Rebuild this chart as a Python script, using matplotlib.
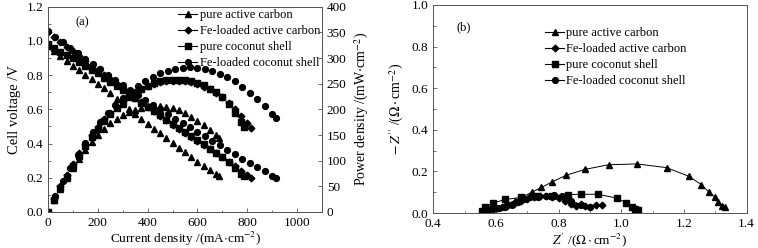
import matplotlib
matplotlib.use("Agg")
import matplotlib.pyplot as plt
from matplotlib.lines import Line2D
from matplotlib.ticker import MultipleLocator

plt.rcParams['font.family'] = ['Liberation Serif', 'DejaVu Serif']
plt.rcParams['mathtext.fontset'] = 'stix'
plt.rcParams['font.size'] = 9

labels = ["pure active carbon", "Fe-loaded active carbon",
          "pure coconut shell", "Fe-loaded coconut shell"]
markers = ["^", "D", "s", "o"]

# ---- (a) polarization / power curves ----
i_pac = [0, 25, 50, 75, 100, 125, 150, 175, 200, 225, 250, 275, 300, 325, 350,
         375, 400, 425, 450, 475, 500, 525, 550, 575, 600, 625, 650, 675, 687]
v_pac = [0.970, 0.940, 0.910, 0.882, 0.855, 0.829, 0.803, 0.777, 0.750, 0.722,
         0.694, 0.662, 0.630, 0.600, 0.570, 0.542, 0.515, 0.487, 0.460, 0.432,
         0.405, 0.377, 0.350, 0.322, 0.295, 0.270, 0.245, 0.222, 0.210]
p_pac = [0, 23.5, 45.5, 66.2, 85.5, 103.6, 120.5, 136.0, 150.0, 162.5, 173.5,
         182.1, 189.0, 195.0, 199.5, 203.3, 206.0, 207.0, 207.0, 205.2, 202.5,
         197.9, 192.5, 185.2, 177.0, 168.8, 159.3, 149.9, 144.3]

i_fac = [0, 25, 50, 75, 100, 125, 150, 175, 200, 225, 250, 275, 300, 325, 350,
         375, 400, 425, 450, 475, 500, 525, 550, 575, 600, 625, 650, 675, 700,
         725, 750, 775, 800, 815]
v_fac = [1.050, 1.020, 0.993, 0.966, 0.940, 0.912, 0.885, 0.857, 0.830, 0.802,
         0.775, 0.747, 0.720, 0.694, 0.668, 0.641, 0.615, 0.589, 0.563, 0.536,
         0.510, 0.486, 0.463, 0.439, 0.415, 0.391, 0.368, 0.344, 0.320, 0.294,
         0.268, 0.242, 0.216, 0.200]
p_fac = [0, 25.5, 49.7, 72.5, 94.0, 114.0, 132.8, 150.0, 166.0, 180.5, 193.8,
         205.4, 216.0, 225.6, 233.8, 240.4, 246.0, 250.3, 253.4, 254.6, 255.0,
         255.2, 254.7, 252.4, 249.0, 244.4, 239.2, 232.2, 224.0, 213.2, 201.0,
         187.6, 172.8, 163.0]

i_pcs = [0, 25, 50, 75, 100, 125, 150, 175, 200, 225, 250, 275, 300, 325, 350,
         375, 400, 425, 450, 475, 500, 525, 550, 575, 600, 625, 650, 675, 700,
         725, 750, 775, 785]
v_pcs = [0.980, 0.958, 0.938, 0.919, 0.900, 0.877, 0.855, 0.832, 0.810, 0.786,
         0.762, 0.739, 0.715, 0.690, 0.665, 0.640, 0.615, 0.590, 0.565, 0.540,
         0.515, 0.491, 0.467, 0.444, 0.420, 0.395, 0.370, 0.345, 0.320, 0.290,
         0.258, 0.225, 0.210]
p_pcs = [0, 24.0, 46.9, 68.9, 90.0, 109.6, 128.3, 145.6, 162.0, 176.9, 190.5,
         203.2, 214.5, 224.3, 232.8, 240.0, 246.0, 250.8, 254.3, 256.5, 257.5,
         257.8, 256.9, 255.3, 252.0, 246.9, 240.5, 232.9, 224.0, 210.3, 193.5,
         174.4, 164.9]

i_fcs = [0, 30, 60, 90, 120, 150, 180, 210, 240, 270, 300, 330, 360, 390, 420,
         450, 480, 510, 540, 570, 600, 630, 660, 690, 720, 750, 780, 810, 840,
         870, 900, 915]
v_fcs = [1.060, 1.025, 0.993, 0.961, 0.929, 0.897, 0.866, 0.835, 0.803, 0.772,
         0.740, 0.711, 0.683, 0.655, 0.627, 0.600, 0.573, 0.546, 0.520, 0.494,
         0.468, 0.442, 0.416, 0.391, 0.365, 0.339, 0.312, 0.286, 0.261, 0.237,
         0.212, 0.200]
p_fcs = [0, 30.8, 59.6, 86.5, 111.5, 134.6, 155.9, 175.4, 192.7, 208.4, 222.0,
         234.6, 245.9, 255.5, 263.3, 270.0, 275.0, 278.5, 280.8, 281.6, 280.8,
         278.5, 274.6, 269.8, 262.8, 254.3, 243.4, 231.7, 219.2, 206.2, 190.8,
         183.0]

# ---- (b) impedance spectra ----
zr_pac = [0.57, 0.60, 0.63, 0.66, 0.685, 0.715, 0.745, 0.78, 0.825, 0.885,
          0.96, 1.05, 1.145, 1.215, 1.255, 1.28, 1.30, 1.31, 1.32, 1.33]
zi_pac = [0.010, 0.025, 0.040, 0.060, 0.078, 0.100, 0.123, 0.150, 0.182, 0.210,
          0.232, 0.236, 0.218, 0.177, 0.137, 0.100, 0.075, 0.052, 0.036, 0.030]

zr_fac = [0.56, 0.58, 0.60, 0.62, 0.64, 0.66, 0.68, 0.70, 0.72, 0.74, 0.76,
          0.78, 0.80, 0.82, 0.84, 0.855, 0.87, 0.885, 0.90, 0.92, 0.94]
zi_fac = [0.010, 0.018, 0.025, 0.030, 0.038, 0.048, 0.058, 0.068, 0.075, 0.080,
          0.082, 0.078, 0.070, 0.058, 0.045, 0.035, 0.045, 0.035, 0.030, 0.040,
          0.040]

zr_pcs = [0.555, 0.565, 0.59, 0.63, 0.68, 0.73, 0.78, 0.83, 0.87, 0.925, 0.985,
          1.015, 1.035, 1.045, 1.053]
zi_pcs = [0.012, 0.030, 0.048, 0.065, 0.075, 0.080, 0.083, 0.088, 0.090, 0.090,
          0.072, 0.050, 0.030, 0.020, 0.016]

zr_fcs = [0.57, 0.59, 0.61, 0.63, 0.65, 0.67, 0.69, 0.71, 0.735, 0.76, 0.785,
          0.81, 0.84, 0.87, 0.90]
zi_fcs = [0.010, 0.018, 0.022, 0.028, 0.040, 0.055, 0.068, 0.075, 0.078, 0.080,
          0.085, 0.080, 0.060, 0.040, 0.028]

fig = plt.figure(figsize=(7.58, 2.48), dpi=100)
ax = fig.add_axes([48 / 758, 36 / 248, 274 / 758, 205.3 / 248])
ax2 = ax.twinx()

iv = [(i_pac, v_pac, p_pac), (i_fac, v_fac, p_fac),
      (i_pcs, v_pcs, p_pcs), (i_fcs, v_fcs, p_fcs)]
for (cur, volt, powr), m in zip(iv, markers):
    ms = 3.4 if m == "D" else 4.2
    ax.plot(cur, volt, ls="none", marker=m, ms=ms, color="black")
    ax2.plot(cur, powr, ls="none", marker=m, ms=ms, color="black")

ax.set_xlim(0, 1100)
ax.set_ylim(0, 1.2)
ax2.set_ylim(0, 400)
ax.xaxis.set_major_locator(MultipleLocator(200))
ax.xaxis.set_minor_locator(MultipleLocator(100))
ax.yaxis.set_major_locator(MultipleLocator(0.2))
ax.yaxis.set_minor_locator(MultipleLocator(0.1))
ax2.yaxis.set_major_locator(MultipleLocator(50))
ax.yaxis.set_major_formatter(plt.FormatStrFormatter("%.1f"))
ax.set_xlabel(r"Current density /(mA$\cdot$cm$^{-2}$)", labelpad=1, fontsize=9.5)
ax.set_ylabel("Cell voltage /V", labelpad=4, fontsize=10.5)
ax2.set_ylabel(r"Power density /(mW$\cdot$cm$^{-2}$)", labelpad=4, fontsize=10)
ax.text(0.1, 0.91, "(a)", transform=ax.transAxes, fontsize=9)

handles = [Line2D([], [], color="black", lw=0.8, marker=m,
                  ms=3.4 if m == "D" else 4.2) for m in markers]
ax.legend(handles, labels, loc="upper left", frameon=False,
          bbox_to_anchor=(172 / 758, 1 - 3 / 248), bbox_transform=fig.transFigure,
          borderpad=0, handlelength=1.5, handletextpad=0.2, labelspacing=0.32,
          fontsize=9)

# ---- (b) ----
bx = fig.add_axes([433.3 / 758, 35 / 248, 313.3 / 758, 208 / 248])
zdata = [(zr_pac, zi_pac), (zr_fac, zi_fac), (zr_pcs, zi_pcs), (zr_fcs, zi_fcs)]
for (zr, zi), m in zip(zdata, markers):
    bx.plot(zr, zi, color="black", lw=0.7, marker=m,
            ms=3.4 if m == "D" else 4.2)
bx.set_xlim(0.4, 1.4)
bx.set_ylim(0, 1.0)
bx.xaxis.set_major_locator(MultipleLocator(0.2))
bx.xaxis.set_minor_locator(MultipleLocator(0.1))
bx.yaxis.set_major_locator(MultipleLocator(0.2))
bx.yaxis.set_minor_locator(MultipleLocator(0.1))
bx.xaxis.set_major_formatter(plt.FormatStrFormatter("%.1f"))
bx.yaxis.set_major_formatter(plt.FormatStrFormatter("%.1f"))
bx.set_xlabel(r"$Z'$ /($\Omega\cdot$cm$^{-2}$)", labelpad=1, fontsize=9.5)
bx.set_ylabel(r"$-\,Z''$ /($\Omega\cdot$cm$^{-2}$)", labelpad=4, fontsize=10)
bx.text(0.075, 0.88, "(b)", transform=bx.transAxes, fontsize=9)
bx.legend(handles, labels, loc="upper left", frameon=False,
          bbox_to_anchor=(539 / 758, 1 - 21 / 248), bbox_transform=fig.transFigure,
          borderpad=0, handlelength=1.5, handletextpad=0.2, labelspacing=0.32,
          fontsize=9)

for a in (ax, ax2, bx):
    a.tick_params(direction="in", which="both", labelsize=9.5, width=0.6,
                  color="#555555")
    a.tick_params(which="major", length=3)
    a.tick_params(which="minor", length=1.8)
    for s in a.spines.values():
        s.set_linewidth(0.7)
        s.set_color("#555555")

fig.savefig("out.png", dpi=100)
